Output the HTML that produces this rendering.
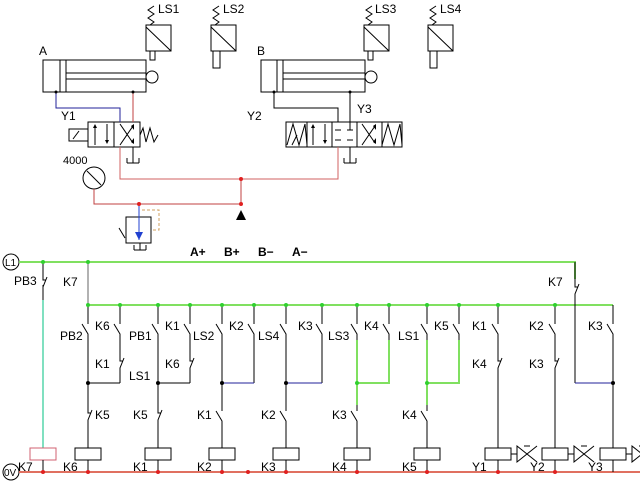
<!DOCTYPE html>
<html><head><meta charset="utf-8"><style>
html,body{margin:0;padding:0;background:#fff;}
svg{display:block;}
text{font-family:"Liberation Sans",sans-serif;font-size:12px;fill:#000;}
</style></head><body>
<svg width="640" height="481" viewBox="0 0 640 481" xmlns="http://www.w3.org/2000/svg">
<defs>
<g id="no" fill="none" stroke="#000" stroke-width="1"><path d="M0,0V6M-6,6L0,16V22"/></g>
<g id="nc" fill="none" stroke="#000" stroke-width="1"><path d="M0,0V8H3M4,5L0,15V22"/></g>
<g id="coil"><rect x="-13" y="0" width="26" height="12" fill="#fff" stroke="#000"/></g>
<g id="sol"><path d="M0,-8L10,0L0,8ZM20,-8L10,0L20,8" fill="none" stroke="#000"/><path d="M7,-8H13" stroke="#000"/></g>
</defs>

<!-- ===== pneumatic section ===== -->
<g fill="none" stroke="#000">
 <!-- cylinder A -->
 <rect x="43" y="60" width="103" height="32"/>
 <path d="M60,60V92M66,60V92M66,73H146M66,79H146"/>
 <circle cx="152" cy="77" r="6" fill="#fff"/>
 <!-- cylinder B -->
 <rect x="261" y="60" width="104" height="32"/>
 <path d="M277,60V92M283,60V92M283,73H365M283,79H365"/>
 <circle cx="371" cy="77" r="6" fill="#fff"/>
 <!-- limit switches -->
 <rect x="146" y="25" width="25" height="26"/><path d="M146,27L171,51M150,51V60H155V51M150,25L154,22L148,18L154,14L148,10L154,6"/>
 <rect x="211" y="25" width="25" height="26"/><path d="M211,27L236,51M213,51V68H220V51M215,25L219,22L213,18L219,14L213,10L219,6"/>
 <rect x="364" y="25" width="25" height="26"/><path d="M364,27L389,51M368,51V60H373V51M368,25L372,22L366,18L372,14L366,10L372,6"/>
 <rect x="428" y="25" width="25" height="26"/><path d="M428,27L453,51M430,51V68H437V51M432,25L436,22L430,18L436,14L430,10L436,6"/>
 <!-- valve A -->
 <rect x="88" y="122" width="52" height="25"/><path d="M114,122V147"/>
 <rect x="69" y="129" width="19" height="12"/><path d="M73,139L79,131"/>
 <path d="M95,145V126M107,124V142M120,145L133,126M120,124L133,143M140,135L143,128L146,142L150,128L154,142L158,135"/>
 <path d="M127,163H139M127,158V163M139,158V163M133,147V163"/>
 <!-- valve B -->
 <rect x="286" y="122" width="116" height="25"/>
 <path d="M307,122V147M332,122V147M357,122V147M382,122V147"/>
 <path d="M287,145L293,124L299,145L305,124L307,145M382,145L388,124L394,145L400,124L402,145M292,145L297,135"/>
 <path d="M313,145V126M325,124V142M362,145L375,126M362,124L375,143"/>
 <path d="M335,130H341M347,130H353M335,140H341M347,140H353M350,130V122M350,147V163M344,163H356M344,158V163M356,158V163"/>
 <!-- gauge -->
 <circle cx="94" cy="178" r="11"/><path d="M87,171L101,185"/>
 <!-- relief -->
 <rect x="126" y="217" width="25" height="26"/>
 <path d="M134,250H146M134,245V250M146,245V250M140,243V250M119,228L125,238"/>
</g>
<g fill="#000"><path d="M93,128L97,128L95,124ZM105,140L109,140L107,144ZM131,126L134,124L134,130ZM131,142L134,144L134,138ZM311,128L315,128L313,124ZM323,140L327,140L325,144ZM373,126L376,124L376,130ZM373,142L376,144L376,138Z"/>
<path d="M236,220L246,220L241,210Z"/></g>
<!-- pipes -->
<path d="M56,92V108H120V122" fill="none" stroke="#22229a"/>
<path d="M133,92V122" fill="none" stroke="#c04040"/>
<path d="M120,147V179H338V147" fill="none" stroke="#d06060"/>
<path d="M94,189V204H241V179" fill="none" stroke="#c04040"/>
<path d="M274,92V108H338V122M350,92V122" fill="none" stroke="#000"/>
<path d="M139,204V240" fill="none" stroke="#2040d0"/>
<path d="M135,232H143L139,240Z" fill="#2040d0"/>
<path d="M142,210H159V230H151" fill="none" stroke="#d0a060" stroke-dasharray="3,2"/>
<g fill="#e02020"><circle cx="241" cy="179" r="2"/><circle cx="241" cy="204" r="2"/><circle cx="139" cy="204" r="2"/></g>
<g fill="#000"><circle cx="56" cy="92" r="1.5"/><circle cx="133" cy="92" r="1.5"/><circle cx="274" cy="92" r="1.5"/><circle cx="350" cy="92" r="1.5"/></g>
<text x="39" y="55">A</text><text x="257" y="55">B</text>
<text x="158" y="13">LS1</text><text x="223" y="13">LS2</text><text x="375" y="13">LS3</text><text x="440" y="13">LS4</text>
<text x="61" y="120">Y1</text><text x="247" y="120">Y2</text><text x="357" y="113">Y3</text>
<text x="63" y="164" style="font-size:11px">4000</text>

<!-- ===== ladder ===== -->
<text x="190" y="256" style="font-weight:bold">A+</text><text x="224" y="256" style="font-weight:bold">B+</text><text x="258" y="256" style="font-weight:bold">B−</text><text x="292" y="256" style="font-weight:bold">A−</text>
<circle cx="11" cy="262" r="8" fill="#fff" stroke="#000"/><text x="5" y="266" style="font-size:10px">L1</text>
<circle cx="11" cy="472" r="8" fill="#fff" stroke="#000"/><text x="4" y="476" style="font-size:10px">0V</text>
<path d="M19,262H575V279" fill="none" stroke="#80e060" stroke-width="2"/>
<path d="M575,262V279" stroke="#000"/>
<path d="M88,305H613" stroke="#80e060" stroke-width="2"/>
<path d="M19,472H640" stroke="#e07060" stroke-width="2"/>
<!-- PB3 / K7 coil -->
<path d="M43,262V272M43,285V300" stroke="#000"/>
<use href="#nc" x="43" y="272" transform="scale(1)"/>
<path d="M43,300V448" stroke="#80e0c0" stroke-width="2"/>
<rect x="30" y="448" width="26" height="12" fill="#fff" stroke="#d06070"/>
<path d="M43,460V472" stroke="#000"/>
<!-- K7 column -->
<path d="M88,262V305" stroke="#666"/>
<g stroke="#000" fill="none">
 <!-- col1 -->
 <path d="M88,305V318M88,340V383H120M88,383V405M88,427V448M120,305V318M120,340V353M120,375V383"/>
 <!-- col2 -->
 <path d="M158,305V318M158,340V383H190M158,383V405M158,427V448M190,305V318M190,340V353M190,375V383"/>
 <!-- col3 -->
 <path d="M222,305V318M222,340V405M222,427V448M254,305V318M254,340V383"/>
 <!-- col4 -->
 <path d="M286,305V318M286,340V405M286,427V448M322,305V318M322,340V383"/>
 <!-- col5/6 -->
 <path d="M357,305V318M357,427V448M389,305V318M427,305V318M427,427V448M459,305V318"/>
 <!-- col7,8 -->
 <path d="M498,305V318M498,340V353M498,375V448M555,305V318M555,340V353M555,375V448"/>
 <!-- col9 -->
 <path d="M613,305V318M613,340V448M575,301V383"/>
 <path d="M43,460V472M88,460V472M158,460V472M222,460V472M286,460V472M357,460V472M427,460V472M498,460V472M555,460V472M613,460V472"/>
</g>
<path d="M222,383H254M286,383H322M575,383H613" stroke="#22229a"/>
<path d="M357,340V405M389,340V383H357M427,340V405M459,340V383H427" fill="none" stroke="#80e060" stroke-width="2"/>
<use href="#no" x="88" y="318"/><use href="#no" x="120" y="318"/><use href="#nc" x="120" y="353"/><use href="#nc" x="88" y="405"/>
<use href="#no" x="158" y="318"/><use href="#no" x="190" y="318"/><use href="#nc" x="190" y="353"/><use href="#nc" x="158" y="405"/>
<use href="#no" x="222" y="318"/><use href="#no" x="254" y="318"/><use href="#no" x="222" y="405"/>
<use href="#no" x="286" y="318"/><use href="#no" x="322" y="318"/><use href="#no" x="286" y="405"/>
<use href="#no" x="357" y="318"/><use href="#no" x="389" y="318"/><use href="#no" x="357" y="405"/>
<use href="#no" x="427" y="318"/><use href="#no" x="459" y="318"/><use href="#no" x="427" y="405"/>
<use href="#no" x="498" y="318"/><use href="#nc" x="498" y="353"/>
<use href="#no" x="555" y="318"/><use href="#nc" x="555" y="353"/>
<use href="#no" x="613" y="318"/><use href="#nc" x="575" y="279"/>
<use href="#coil" x="88" y="448"/><use href="#coil" x="158" y="448"/><use href="#coil" x="222" y="448"/><use href="#coil" x="286" y="448"/>
<use href="#coil" x="357" y="448"/><use href="#coil" x="427" y="448"/><use href="#coil" x="498" y="448"/><use href="#coil" x="555" y="448"/><use href="#coil" x="613" y="448"/>
<path d="M511,454H517M568,454H574M626,454H632" stroke="#000"/>
<use href="#sol" x="517" y="454"/><use href="#sol" x="574" y="454"/><use href="#sol" x="632" y="454"/>
<g fill="#30d030"><circle cx="43" cy="262" r="2"/><circle cx="88" cy="262" r="2"/><circle cx="88" cy="305" r="2"/><circle cx="120" cy="305" r="2"/><circle cx="158" cy="305" r="2"/><circle cx="190" cy="305" r="2"/><circle cx="222" cy="305" r="2"/><circle cx="254" cy="305" r="2"/><circle cx="286" cy="305" r="2"/><circle cx="322" cy="305" r="2"/><circle cx="357" cy="305" r="2"/><circle cx="389" cy="305" r="2"/><circle cx="427" cy="305" r="2"/><circle cx="459" cy="305" r="2"/><circle cx="498" cy="305" r="2"/><circle cx="555" cy="305" r="2"/><circle cx="357" cy="383" r="2"/><circle cx="427" cy="383" r="2"/></g>
<g fill="#000"><circle cx="88" cy="383" r="2"/><circle cx="158" cy="383" r="2"/><circle cx="222" cy="383" r="2"/><circle cx="286" cy="383" r="2"/><circle cx="613" cy="383" r="2"/></g>
<g fill="#e02020"><circle cx="43" cy="472" r="2"/><circle cx="88" cy="472" r="2"/><circle cx="158" cy="472" r="2"/><circle cx="222" cy="472" r="2"/><circle cx="248" cy="472" r="2"/><circle cx="286" cy="472" r="2"/><circle cx="357" cy="472" r="2"/><circle cx="427" cy="472" r="2"/><circle cx="498" cy="472" r="2"/><circle cx="555" cy="472" r="2"/></g>
<!-- labels -->
<g>
<text x="14" y="285">PB3</text><text x="63" y="286">K7</text><text x="548" y="286">K7</text>
<text x="60" y="340">PB2</text><text x="95" y="330">K6</text><text x="95" y="368">K1</text><text x="95" y="419">K5</text>
<text x="129" y="340">PB1</text><text x="165" y="330">K1</text><text x="129" y="380">LS1</text><text x="165" y="368">K6</text><text x="133" y="419">K5</text>
<text x="193" y="340">LS2</text><text x="229" y="330">K2</text><text x="197" y="419">K1</text>
<text x="258" y="340">LS4</text><text x="298" y="330">K3</text><text x="261" y="419">K2</text>
<text x="328" y="340">LS3</text><text x="364" y="330">K4</text><text x="332" y="419">K3</text>
<text x="398" y="340">LS1</text><text x="434" y="330">K5</text><text x="402" y="419">K4</text>
<text x="472" y="330">K1</text><text x="472" y="368">K4</text>
<text x="529" y="330">K2</text><text x="529" y="368">K3</text>
<text x="588" y="330">K3</text>
<text x="18" y="471">K7</text><text x="63" y="471">K6</text><text x="133" y="471">K1</text><text x="197" y="471">K2</text><text x="261" y="471">K3</text>
<text x="332" y="471">K4</text><text x="402" y="471">K5</text><text x="472" y="471">Y1</text><text x="530" y="471">Y2</text><text x="588" y="471">Y3</text>
</g>
</svg>
</body></html>
